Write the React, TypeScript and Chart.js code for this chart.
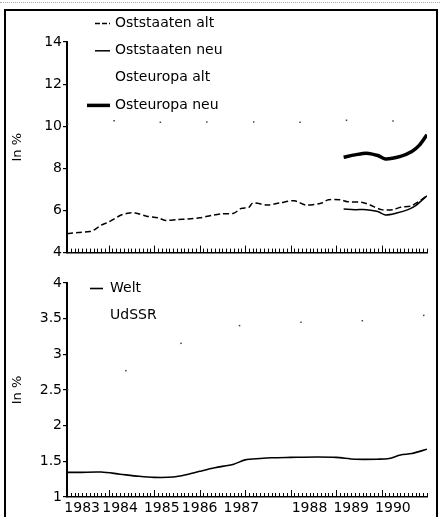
import React, { useEffect, useRef } from "react";
import { Chart, registerables } from "chart.js";

Chart.register(...registerables);

// ---------- data (month index 0 = start of 1983 series) ----------
const yearLabels = ["1983", "1984", "1985", "1986", "1987", "1988", "1989", "1990"];
const yearLabelMonths = [4, 14, 25, 35, 46, 64, 75, 86];
const yearBoundaryMonths = [11, 23, 35, 47, 59, 71, 83];

const ostAltMonths = [0, 3, 6, 7, 9, 11, 14, 16, 18, 21, 24, 26, 29, 32, 35, 38, 41, 44, 46, 48, 49, 53, 56, 60, 63, 67, 69, 72, 74, 78, 80, 83, 86, 88, 91, 95];
const ostAltValues = [4.9, 4.95, 5.0, 5.06, 5.3, 5.45, 5.76, 5.87, 5.88, 5.73, 5.65, 5.53, 5.57, 5.6, 5.65, 5.76, 5.84, 5.87, 6.1, 6.15, 6.35, 6.26, 6.35, 6.46, 6.26, 6.34, 6.51, 6.51, 6.42, 6.38, 6.26, 6.04, 6.04, 6.15, 6.23, 6.7];

const ostNeuMonths = [73, 76, 79, 82, 84, 87, 90, 92, 95];
const ostNeuValues = [6.07, 6.04, 6.04, 5.95, 5.79, 5.88, 6.04, 6.23, 6.7];

const euAltMonths = [0, 9, 16, 23, 36, 51, 64, 78, 92, 95];
const euAltValues = [10.1, 10.2, 10.3, 10.2, 10.2, 10.2, 10.2, 10.3, 10.2, 10.2];

const euNeuMonths = [73, 76, 79, 82, 84, 88, 91, 93, 95];
const euNeuValues = [8.53, 8.64, 8.72, 8.61, 8.45, 8.57, 8.8, 9.1, 9.6];

const weltMonths = [0, 3, 9, 14, 19, 23, 28, 32, 35, 39, 44, 47, 51, 54, 59, 66, 71, 76, 82, 85, 88, 91, 95];
const weltValues = [1.345, 1.345, 1.35, 1.32, 1.29, 1.275, 1.28, 1.32, 1.36, 1.41, 1.46, 1.52, 1.54, 1.55, 1.555, 1.56, 1.555, 1.53, 1.53, 1.54, 1.59, 1.61, 1.67];

const udssrMonths = [0, 11, 24, 38, 49, 62, 74, 86, 95];
const udssrValues = [2.5, 2.66, 3.0, 3.33, 3.42, 3.45, 3.46, 3.5, 3.55];

const topTicks = { min: 4, max: 14, step: 2 };
const bottomTicks = { min: 1, max: 4, step: 0.5 };

// ---------- helpers ----------
const FONT = "'DejaVu Sans', 'Liberation Sans', sans-serif";
const pts = (ms: number[], vs: number[]) => ms.map((m, i) => ({ x: m, y: vs[i] }));

const inlineLegend = {
  id: "inlineLegend",
  afterDraw(chart: any, _args: any, opts: any) {
    const ctx = chart.ctx;
    ctx.save();
    ctx.font = `${opts.size}px ${FONT}`;
    ctx.fillStyle = "#000";
    ctx.textBaseline = "middle";
    ctx.textAlign = "left";
    chart.data.datasets.forEach((ds: any, i: number) => {
      const y = opts.y0 + i * opts.gap;
      const len = ds.legendLen ?? 0;
      if (len > 0) {
        ctx.beginPath();
        ctx.strokeStyle = ds.borderColor;
        ctx.lineWidth = ds.borderWidth;
        ctx.setLineDash(ds.legendDash || []);
        ctx.moveTo(opts.markerRight - len, y + 0.5);
        ctx.lineTo(opts.markerRight, y + 0.5);
        ctx.stroke();
      }
      ctx.setLineDash([]);
      ctx.fillText(ds.label, opts.textX, y);
    });
    ctx.restore();
  },
};

const axisMarks = {
  id: "axisMarks",
  afterDraw(chart: any, _args: any, opts: any) {
    const sc = chart.scales.x;
    const ctx = chart.ctx;
    const yb = chart.chartArea.bottom;
    ctx.save();
    ctx.strokeStyle = "#000";
    ctx.lineWidth = 1;
    for (let m = Math.ceil(sc.min); m <= sc.max; m++) {
      const x = Math.round(sc.getPixelForValue(m)) + 0.5;
      const h = yearBoundaryMonths.includes(m) ? opts.major : opts.minor;
      ctx.beginPath();
      ctx.moveTo(x, yb);
      ctx.lineTo(x, yb - h);
      ctx.stroke();
    }
    ctx.restore();
  },
};

function makeOptions(cfg: {
  ymin: number; ymax: number; ystep: number; padTop: number; xHeight: number; showX: boolean;
  legend: any;
}) {
  return {
    responsive: false,
    animation: false as const,
    layout: { padding: { top: cfg.padTop, right: 13, bottom: 0, left: 0 } },
    plugins: {
      legend: { display: false },
      tooltip: { enabled: false },
      inlineLegend: cfg.legend,
      axisMarks: { minor: 4, major: 7 },
    },
    elements: { point: { radius: 0 }, line: { tension: 0.3 } },
    scales: {
      x: {
        type: "linear" as const,
        min: 0,
        max: 95,
        grid: { display: false, drawTicks: false },
        border: { display: true, color: "#000", width: 1.5 },
        ticks: {
          display: cfg.showX,
          stepSize: 1,
          autoSkip: false,
          maxRotation: 0,
          minRotation: 0,
          padding: 3,
          color: "#000",
          font: { family: FONT, size: 14 },
          callback: (v: any) => {
            const i = yearLabelMonths.indexOf(Number(v));
            return i >= 0 ? yearLabels[i] : "";
          },
        },
        afterFit: (s: any) => { s.height = cfg.xHeight; },
      },
      y: {
        min: cfg.ymin,
        max: cfg.ymax,
        ticks: {
          stepSize: cfg.ystep,
          color: "#000",
          padding: 1,
          font: { family: FONT, size: 14 },
          callback: (v: any) => String(Number(v)),
        },
        grid: { drawOnChartArea: false, drawTicks: true, tickLength: 4, color: "#000", lineWidth: 1.2 },
        border: { display: true, color: "#000", width: 2 },
        title: {
          display: true,
          text: "In %",
          color: "#000",
          font: { family: FONT, size: 13 },
          padding: { top: 10, bottom: 0 },
        },
        afterFit: (s: any) => { s.width = 67; },
      },
    },
  };
}

export default function App() {
  const topRef = useRef<HTMLCanvasElement | null>(null);
  const botRef = useRef<HTMLCanvasElement | null>(null);

  useEffect(() => {
    const top = new Chart(topRef.current as HTMLCanvasElement, {
      type: "line",
      data: {
        datasets: [
          { label: "Oststaaten alt", data: pts(ostAltMonths, ostAltValues), borderColor: "#000", borderWidth: 1.5, borderDash: [6, 3], legendLen: 15, legendDash: [5, 2] } as any,
          { label: "Oststaaten neu", data: pts(ostNeuMonths, ostNeuValues), borderColor: "#000", borderWidth: 1.5, legendLen: 15 } as any,
          { label: "Osteuropa alt", data: pts(euAltMonths, euAltValues), borderColor: "#444", borderWidth: 1.5, borderDash: [1.5, 45], legendLen: 0 } as any,
          { label: "Osteuropa neu", data: pts(euNeuMonths, euNeuValues), borderColor: "#000", borderWidth: 3.5, legendLen: 23 } as any,
        ],
      },
      options: makeOptions({
        ymin: topTicks.min, ymax: topTicks.max, ystep: topTicks.step, padTop: 42, xHeight: 6, showX: false,
        legend: { y0: 23, gap: 27.3, textX: 115, markerRight: 110, size: 14 },
      }) as any,
      plugins: [inlineLegend, axisMarks],
    });
    const bot = new Chart(botRef.current as HTMLCanvasElement, {
      type: "line",
      data: {
        datasets: [
          { label: "Welt", data: pts(weltMonths, weltValues), borderColor: "#000", borderWidth: 1.6, legendLen: 13 } as any,
          { label: "UdSSR", data: pts(udssrMonths, udssrValues), borderColor: "#444", borderWidth: 1.5, borderDash: [1.5, 60], legendLen: 0 } as any,
        ],
      },
      options: makeOptions({
        ymin: bottomTicks.min, ymax: bottomTicks.max, ystep: bottomTicks.step, padTop: 21, xHeight: 20, showX: true,
        legend: { y0: 26, gap: 27, textX: 110, markerRight: 103, size: 14 },
      }) as any,
      plugins: [inlineLegend, axisMarks],
    });
    return () => {
      top.destroy();
      bot.destroy();
    };
  }, []);

  return (
    <div style={{ position: "fixed", left: 0, top: 0, width: 440, height: 517, background: "#fff", overflow: "hidden" }}>
      <div style={{ position: "absolute", left: 0, top: 2, width: 440, height: 0, borderTop: "1px dotted #aaa" }} />
      <div style={{ position: "absolute", left: 4, top: 9, width: 434, height: 520, border: "2px solid #000", boxSizing: "border-box" }} />
      <canvas ref={topRef} width={440} height={262} style={{ position: "absolute", left: 0, top: 0, display: "block" }} />
      <canvas ref={botRef} width={440} height={255} style={{ position: "absolute", left: 0, top: 262, display: "block" }} />
    </div>
  );
}
